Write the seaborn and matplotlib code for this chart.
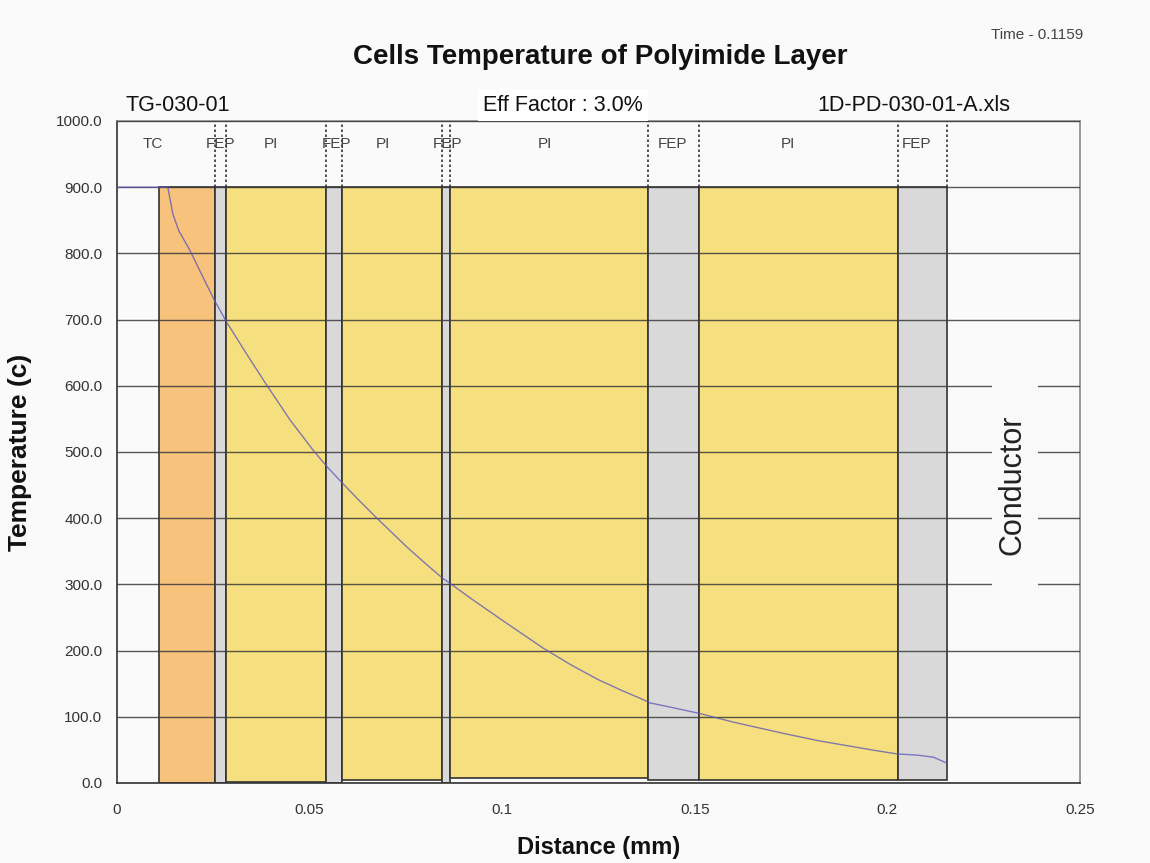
import matplotlib
matplotlib.use("Agg")
import matplotlib.pyplot as plt
import seaborn as sns
import pandas as pd
from matplotlib.patches import Rectangle

# ---------------- data ----------------
layer_names = ["TC", "FEP", "PI", "FEP", "PI", "FEP", "PI", "FEP", "PI", "FEP"]
layer_start = [0.0110, 0.0254, 0.0283, 0.0543, 0.0584, 0.0843, 0.0864, 0.1380, 0.1510, 0.2027]
layer_end = [0.0254, 0.0283, 0.0543, 0.0584, 0.0843, 0.0864, 0.1380, 0.1510, 0.2027, 0.2155]
layer_bottom = [0, 0, 2, 0, 4, 0, 8, 5, 5, 5]
layer_top = [900, 900, 900, 900, 900, 900, 900, 900, 900, 900]
label_pos = [0.0093, 0.0269, 0.0400, 0.0571, 0.0690, 0.0857, 0.1110, 0.1443, 0.1742, 0.2077]

distance = [0.0, 0.0132, 0.0145, 0.0160, 0.0190, 0.0220, 0.0254, 0.0286, 0.0340, 0.0390,
            0.0450, 0.0509, 0.0545, 0.0587, 0.0630, 0.0675, 0.0750, 0.0800, 0.0846,
            0.0864, 0.0916, 0.1000, 0.1106, 0.1180, 0.1250, 0.1310, 0.1366, 0.1384,
            0.1450, 0.1513, 0.1600, 0.1730, 0.1820, 0.1900, 0.1970, 0.2025, 0.2080,
            0.2120, 0.2155]
temperature = [900, 900, 860, 835, 804, 768, 728, 695, 645, 600,
               548, 503, 478, 452, 426, 400, 358, 332, 309,
               302, 280, 246, 204, 178, 156, 140, 126, 121,
               113, 105, 92, 75, 64, 56, 49, 44, 42,
               39, 30]

x_ticks = [0, 0.05, 0.1, 0.15, 0.2, 0.25]
x_tick_labels = ["0", "0.05", "0.1", "0.15", "0.2", "0.25"]
y_ticks = [0, 100, 200, 300, 400, 500, 600, 700, 800, 900, 1000]
y_tick_labels = ["0.0", "100.0", "200.0", "300.0", "400.0", "500.0", "600.0",
                 "700.0", "800.0", "900.0", "1000.0"]

layer_colors = {"TC": "#f7c27b", "PI": "#f6df7e", "FEP": "#d9d9d9"}

# ---------------- style ----------------
sns.set_style("white")
plt.rcParams["font.family"] = ["Liberation Sans", "DejaVu Sans"]

bg = "#fafafa"
fig = plt.figure(figsize=(11.5, 8.63), dpi=100, facecolor=bg)
ax = fig.add_axes([0.1017, 0.0927, 0.8373, 0.7671])
ax.set_facecolor(bg)

# layers
heights = [t - b for t, b in zip(layer_top, layer_bottom)]
widths = [e - s for s, e in zip(layer_start, layer_end)]
ax.bar(layer_start, heights, width=widths, bottom=layer_bottom, align="edge",
       color=[layer_colors[n] for n in layer_names], edgecolor="#333333",
       linewidth=1.2, zorder=1)

# dotted boxes above FEP layers and layer labels
for n, s, e, lp in zip(layer_names, layer_start, layer_end, label_pos):
    if n == "FEP":
        ax.vlines([s, e], 900, 1000, colors="#333333", linestyles=(0, (1.5, 1.5)),
                  linewidth=1.2, zorder=3)
    ax.text(lp, 965, n, ha="center", va="center", fontsize=11, color="#444444", zorder=4)

# temperature curve
df = pd.DataFrame({"Distance": distance, "Temperature": temperature})
sns.lineplot(data=df, x="Distance", y="Temperature", ax=ax, color="#5b55b8",
             linewidth=1.0, alpha=0.75, zorder=3, sort=False)

# grid drawn over the layers
ax.set_axisbelow(False)
ax.yaxis.grid(True, color="#3a3a3a", linewidth=1.0, alpha=0.85)
ax.xaxis.grid(False)

# conductor label with blank backing
ax.add_patch(Rectangle((0.2272, 250), 0.0119, 400, facecolor=bg, edgecolor="none", zorder=2.6))
ax.text(0.2326, 451, "Conductor", rotation=90, ha="center", va="center",
        fontsize=22, color="#222222", zorder=2.7)

ax.set_xlim(0, 0.25)
ax.set_ylim(0, 1000)
ax.set_xticks(x_ticks)
ax.set_xticklabels(x_tick_labels)
ax.set_yticks(y_ticks)
ax.set_yticklabels(y_tick_labels)
ax.tick_params(axis="both", direction="inout", length=9, width=1.0, colors="#333333",
               labelsize=11, labelcolor="#333333")
ax.tick_params(axis="x", pad=10)
ax.tick_params(axis="y", pad=6)
for sp in ["left", "bottom"]:
    ax.spines[sp].set_color("#333333")
    ax.spines[sp].set_linewidth(1.2)
for sp in ["top", "right"]:
    ax.spines[sp].set_color("#888888")
    ax.spines[sp].set_linewidth(1.2)

ax.set_xlabel("Distance (mm)", fontsize=17, fontweight="bold", color="#111111")
ax.set_ylabel("Temperature (c)", fontsize=19, fontweight="bold", color="#111111")
ax.xaxis.set_label_coords(0.5, -0.080)
ax.yaxis.set_label_coords(-0.088, 0.5)

# header texts
fig.text(0.522, 0.934, "Cells Temperature of Polyimide Layer", ha="center", va="center",
         fontsize=20, fontweight="bold", color="#111111")
fig.text(0.942, 0.959, "Time - 0.1159", ha="right", va="center", fontsize=11, color="#444444")
fig.text(0.109, 0.878, "TG-030-01", ha="left", va="center", fontsize=15.5, color="#111111")
fig.text(0.42, 0.878, "Eff Factor : 3.0%", ha="left", va="center", fontsize=15.5,
         color="#111111", bbox=dict(boxstyle="square,pad=0.25", facecolor="white",
                                     edgecolor="none"))
fig.text(0.711, 0.878, "1D-PD-030-01-A.xls", ha="left", va="center", fontsize=15.5,
         color="#111111")

fig.savefig("out.png", dpi=100, facecolor=bg)
